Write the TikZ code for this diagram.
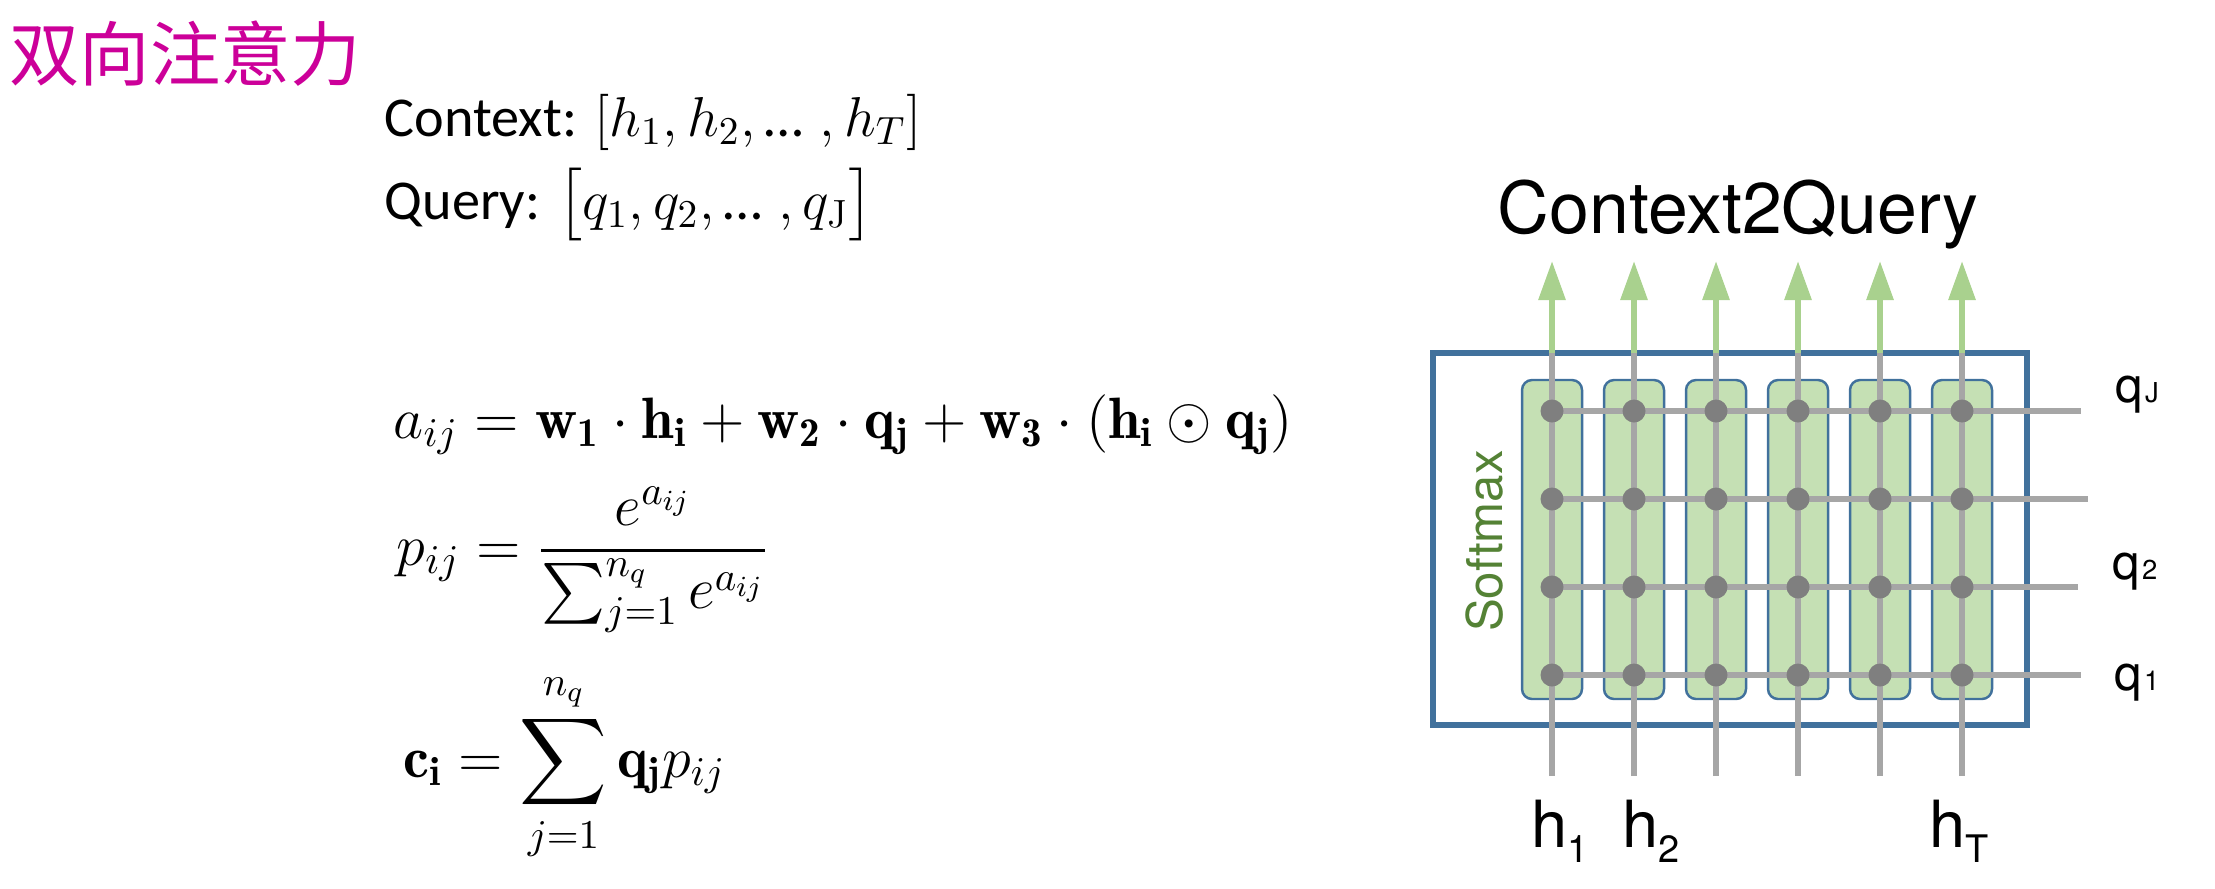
\documentclass[tikz,border=0pt]{standalone}
\usepackage{fix-cm}
\usepackage{amsmath}
\usepackage{fontspec}
\usepackage{tikz}
\usetikzlibrary{arrows.meta}
\newfontfamily\cjkfont{Noto Sans CJK SC}
\newfontfamily\calfont{Carlito}
\newfontfamily\helvfont{TeX Gyre Heros}
\definecolor{TitleMagenta}{RGB}{204,0,153}
\definecolor{FrameBlue}{RGB}{65,113,156}
\definecolor{SoftGreen}{RGB}{197,224,180}
\definecolor{ArrowGreen}{RGB}{169,209,142}
\definecolor{LineGray}{RGB}{166,166,166}
\definecolor{DotGray}{RGB}{127,127,127}
\definecolor{LabelGreen}{RGB}{84,130,53}
\newcommand{\hsub}[1]{\raisebox{-4.3pt}{\fontsize{10.8}{12}\selectfont #1}}
\newcommand{\qsub}[1]{\hspace{0.6pt}{\fontsize{7.8}{9}\selectfont #1}}
\newcommand{\dotsgap}{\text{\calfont …}\;}
\tikzset{
    titletext/.style={inner sep=0pt, text=TitleMagenta, font=\cjkfont\fontsize{20}{24}\selectfont},
    ctxtext/.style={inner sep=0pt, font=\calfont\fontsize{16}{19}\selectfont},
    eqtext/.style={inner sep=0pt, font=\fontsize{16.6}{20}\selectfont},
    headtext/.style={inner sep=0pt, font=\helvfont\fontsize{20.4}{24}\selectfont},
    outerbox/.style={draw=FrameBlue, line width=1.5pt, minimum width=5.94cm, minimum height=3.72cm, inner sep=0pt},
    softbox/.style={draw=FrameBlue, line width=0.7pt, fill=SoftGreen, rounded corners=0.1cm, minimum width=0.6cm, minimum height=3.19cm, inner sep=0pt},
    gridline/.style={draw=LineGray, line width=1.7pt},
    outarr/.style={draw=ArrowGreen, line width=1.7pt, -{Triangle[length=3.9mm, width=2.6mm]}},
    dot/.style={circle, fill=DotGray, inner sep=0pt, minimum size=0.23cm},
    softlab/.style={inner sep=0pt, text=LabelGreen, font=\helvfont\fontsize{14}{16}\selectfont},
    qlab/.style={inner sep=0pt, anchor=base west, font=\helvfont\fontsize{14}{16}\selectfont},
    hlab/.style={inner sep=0pt, anchor=base west, font=\helvfont\fontsize{18.5}{22}\selectfont},
}

\begin{document}
\begin{tikzpicture}
\useasboundingbox (0,0) rectangle (22.15,8.88);

% left: title, inputs and formulas
\node[titletext, anchor=west] (title) at (0.09,8.34) {双向注意力};
\node[ctxtext, anchor=base west] (ctx) at (3.84,7.52) {Context: $[h_1, h_2, \dotsgap, h_T]$};
\node[ctxtext, anchor=base west] (qry) at (3.84,6.69) {Query: $\bigl[q_1, q_2, \dotsgap, q_{\mathrm{J}}\bigr]$};
\node[eqtext, anchor=base west] (eqa) at (3.93,4.50) {$a_{ij} = \mathbf{w_1}\cdot\mathbf{h_i} + \mathbf{w_2}\cdot\mathbf{q_j} + \mathbf{w_3}\cdot(\mathbf{h_i}\odot\mathbf{q_j})$};
\node[eqtext, anchor=base west] (eqp) at (3.96,3.23) {$\displaystyle p_{ij} = \frac{e^{a_{ij}}}{\sum_{j=1}^{n_q} e^{a_{ij}}}$};
\node[eqtext, anchor=base west] (eqc) at (4.03,1.11) {$\displaystyle \mathbf{c_i} = \sum_{j=1}^{n_q} \mathbf{q_j} p_{ij}$};

% right: context-to-query grid
\node[headtext, anchor=base west] (head) at (14.97,6.55) {Context2Query};
\node[outerbox] (c2q) at (17.30,3.49) {};
\node[softlab, rotate=90] (smax) at (14.85,3.47) {Softmax};

\foreach \x [count=\i] in {15.52,16.34,17.16,17.98,18.80,19.62} {
    \node[softbox] (col\i) at (\x,3.485) {};
    \coordinate (b\i) at (\x,1.12);
    \coordinate (t\i) at (\x,5.35);
    \coordinate (a\i) at (\x,6.27);
    \draw[gridline] (b\i) -- (t\i);
    \draw[outarr] (t\i) -- (a\i);
}
\foreach \y/\xe [count=\j] in {4.77/20.81,3.89/20.88,3.01/20.78,2.13/20.81} {
    \coordinate (s\j) at (15.52,\y);
    \coordinate (e\j) at (\xe,\y);
    \draw[gridline] (s\j) -- (e\j);
}
\foreach \x [count=\i] in {15.52,16.34,17.16,17.98,18.80,19.62} {
    \foreach \y [count=\j] in {4.77,3.89,3.01,2.13} {
        \node[dot] (d\i\j) at (\x,\y) {};
    }
}

% labels
\node[qlab] (qJ) at (21.15,4.86) {q\qsub{J}};
\node[qlab] (q2) at (21.12,3.09) {q\qsub{2}};
\node[qlab] (q1) at (21.14,1.98) {q\qsub{1}};
\node[hlab] (h1) at (15.31,0.41) {h\hsub{1}};
\node[hlab] (h2) at (16.22,0.41) {h\hsub{2}};
\node[hlab] (hT) at (19.29,0.41) {h\hsub{T}};
\end{tikzpicture}
\end{document}
